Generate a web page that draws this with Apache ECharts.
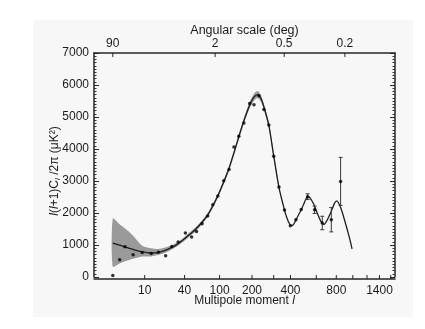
<!DOCTYPE html>
<html>
<head>
<meta charset="utf-8">
<script src="https://cdn.jsdelivr.net/npm/echarts@6/dist/echarts.min.js"></script>
<style>
  html, body { margin: 0; padding: 0; background: #ffffff; }
  #chart { width: 425px; height: 329px; }
</style>
</head>
<body>
<div id="chart"></div>
<script>
// Binned angular power spectrum: multipole l and l(l+1)C_l/2π in μK²
const dataL = [2, 3, 4, 6, 9, 13, 17, 22, 27, 33, 41, 49, 56, 65, 75, 85, 96, 110, 124, 138,
               153, 170, 191, 208, 229, 251, 275, 300, 329, 362, 399, 437, 476, 526, 585, 655, 746, 849];
const dataD = [50, 540, 945, 695, 765, 735, 775, 665, 950, 1095, 1375, 1250, 1425, 1665, 1910, 2255, 2530, 3010, 3360, 4060,
               4395, 4810, 5420, 5385, 5665, 5235, 4750, 3770, 2810, 2090, 1603, 1790, 2110, 2510, 2100, 1688, 1790, 2988];

// High-l bins drawn with error bars (centre and 1σ)
const errL = [526, 585, 655, 746, 849];
const errD = [2510, 2100, 1688, 1790, 2988];
const errSigma = [90, 115, 210, 380, 750];

// Best-fit model spectrum
const modelL = [2, 3, 4, 6, 9, 13, 18, 24, 32, 42, 55, 65, 75, 85, 96, 110, 124, 138, 153, 170,
                191, 208, 224, 240, 251, 275, 300, 329, 352, 373, 396, 412, 440, 488, 528, 570, 614, 645, 672, 700,
                745, 781, 805, 845, 895, 957, 990];
const modelD = [1060, 995, 940, 860, 785, 750, 780, 870, 1020, 1240, 1500, 1710, 1940, 2220, 2540, 2970, 3400, 3880, 4380, 4880,
                5370, 5620, 5700, 5540, 5320, 4740, 3790, 2800, 2290, 1900, 1640, 1610, 1810, 2210, 2520, 2330, 1950, 1720, 1640, 1760,
                2050, 2310, 2380, 2200, 1790, 1220, 880];

// Cosmic variance band around the model
const bandL  = [2, 3, 4, 6, 9, 13, 18, 24, 32, 42, 55, 65, 75, 85, 96, 110, 124, 138, 153, 170,
                191, 208, 224, 240, 251, 275, 300, 329];
const bandLo = [320, 420, 490, 570, 640, 640, 700, 800, 960, 1180, 1440, 1650, 1880, 2160, 2480, 2900, 3330, 3800, 4300, 4790,
                5270, 5510, 5590, 5440, 5230, 4650, 3710, 2740];
const bandHi = [1830, 1650, 1520, 1290, 980, 900, 880, 950, 1080, 1300, 1560, 1770, 2000, 2280, 2600, 3040, 3470, 3960, 4460, 4970,
                5470, 5730, 5810, 5640, 5410, 4830, 3870, 2860];

// Axis ticks
const xLabelValues = [10, 40, 100, 200, 400, 800, 1400];
const xTickValues = [10, 40, 100, 200, 300, 400, 600, 800, 1000, 1200, 1400, 1600];
const topLabelDegrees = [90, 2, 0.5, 0.2];

// The multipole axis is laid out in l^(1/4)
const fwd = l => Math.pow(l, 0.25);
const inv = u => Math.pow(u, 4);

const U_MIN = 0.842, U_MAX = 6.403;
const Y_MIN = 0, Y_MAX = 7000, Y_STEP = 1000;

const FONT = "'Liberation Sans', Arial, sans-serif";
const INK = '#1a1a1a';
const AXIS = '#262626';

const chart = echarts.init(document.getElementById('chart'), null, { renderer: 'canvas' });

const lineStyle = { color: AXIS, width: 1.5 };
const tickStyle = { color: AXIS, width: 1 };

function yAxisDef(pos, extra) {
  return Object.assign({
    type: 'value', position: pos, min: Y_MIN, max: Y_MAX, interval: Y_STEP,
    axisLine: { show: true, onZero: false, lineStyle: lineStyle },
    axisTick: { show: true, inside: true, length: 5, lineStyle: tickStyle },
    minorTick: { show: true, splitNumber: 10, length: 2.5, lineStyle: { color: '#333333', width: 1 } },
    axisLabel: { show: false },
    splitLine: { show: false },
    minorSplitLine: { show: false }
  }, extra || {});
}

// tick marks along the multipole axes: [u, side] with side 0 = bottom, 1 = top
const xTickItems = xTickValues.map(l => [fwd(l), 0])
  .concat(topLabelDegrees.map(d => [fwd(180 / d), 1]));

const option = {
  backgroundColor: '#ffffff',
  animation: false,
  graphic: [{
    type: 'rect', z: -10, silent: true,
    shape: { x: 33, y: 20, width: 380, height: 297 },
    style: { fill: '#f7f7f7' }
  }],
  grid: { left: 94, right: 30, top: 53, bottom: 52, containLabel: false },
  xAxis: [
    {
      type: 'value', position: 'bottom', min: U_MIN, max: U_MAX, offset: 2,
      axisLine: { show: true, onZero: false, lineStyle: lineStyle },
      axisTick: { show: false },
      axisLabel: {
        customValues: xLabelValues.map(fwd),
        formatter: v => String(Math.round(inv(v))),
        margin: 6, fontSize: 12, color: INK, fontFamily: FONT
      },
      splitLine: { show: false },
      name: 'Multipole moment {i|l}',
      nameLocation: 'middle', nameGap: 16, nameMoveOverlap: false,
      nameTextStyle: { fontSize: 12, color: INK, fontFamily: FONT,
        rich: { i: { fontSize: 12, fontStyle: 'italic', color: INK, fontFamily: FONT } } }
    },
    {
      type: 'value', position: 'top', min: U_MIN, max: U_MAX,
      axisLine: { show: true, onZero: false, lineStyle: lineStyle },
      axisTick: { show: false },
      axisLabel: {
        customValues: topLabelDegrees.map(d => fwd(180 / d)),
        formatter: v => String(parseFloat((180 / inv(v)).toPrecision(2))),
        margin: 3, fontSize: 12, color: INK, fontFamily: FONT
      },
      splitLine: { show: false },
      name: 'Angular scale (deg)',
      nameLocation: 'middle', nameGap: 16, nameMoveOverlap: false,
      nameTextStyle: { fontSize: 12.5, color: INK, fontFamily: FONT }
    }
  ],
  yAxis: [
    yAxisDef('left', {
      axisLabel: { show: true, formatter: v => String(v), margin: 5, fontSize: 12, color: INK, fontFamily: FONT },
      name: '{i|l}({i|l}+1)C{s|l} /2π (μK²)',
      nameLocation: 'middle', nameGap: 32, nameRotate: 90, nameMoveOverlap: false,
      nameTextStyle: {
        fontSize: 12, color: INK, fontFamily: FONT, padding: [0, 12, 0, 0],
        rich: {
          i: { fontSize: 12, fontStyle: 'italic', color: INK, fontFamily: FONT, lineHeight: 14 },
          s: { fontSize: 8, fontStyle: 'italic', color: INK, fontFamily: FONT, lineHeight: 8, verticalAlign: 'bottom' }
        }
      }
    }),
    yAxisDef('right')
  ],
  series: [
    {
      // shaded band
      type: 'custom', name: 'band', silent: true, z: 1,
      xAxisIndex: 0, yAxisIndex: 0,
      data: [[fwd(bandL[0]), bandLo[0]]],
      renderItem: function (params, api) {
        const pts = [];
        for (let i = 0; i < bandL.length; i++) pts.push(api.coord([fwd(bandL[i]), bandHi[i]]));
        for (let i = bandL.length - 1; i >= 0; i--) pts.push(api.coord([fwd(bandL[i]), bandLo[i]]));
        return { type: 'polygon', shape: { points: pts, smooth: 0.25 }, style: { fill: '#9a9a9a', stroke: null } };
      }
    },
    {
      type: 'line', name: 'model', z: 3,
      xAxisIndex: 0, yAxisIndex: 0,
      data: modelL.map((l, i) => [fwd(l), modelD[i]]),
      showSymbol: false, smooth: 0.3,
      lineStyle: { color: '#1e1e1e', width: 1.3 }
    },
    {
      // error bars
      type: 'custom', name: 'errors', z: 4,
      xAxisIndex: 0, yAxisIndex: 0,
      data: errL.map((l, i) => [fwd(l), errD[i] - errSigma[i], errD[i] + errSigma[i]]),
      encode: { x: 0, y: [1, 2] },
      renderItem: function (params, api) {
        const lo = api.coord([api.value(0), api.value(1)]);
        const hi = api.coord([api.value(0), api.value(2)]);
        const w = 2;
        const st = { stroke: '#3a3a3a', lineWidth: 1 };
        return {
          type: 'group',
          children: [
            { type: 'line', shape: { x1: lo[0], y1: lo[1], x2: hi[0], y2: hi[1] }, style: st },
            { type: 'line', shape: { x1: lo[0] - w, y1: lo[1], x2: lo[0] + w, y2: lo[1] }, style: st },
            { type: 'line', shape: { x1: hi[0] - w, y1: hi[1], x2: hi[0] + w, y2: hi[1] }, style: st }
          ]
        };
      }
    },
    {
      type: 'scatter', name: 'data', z: 5,
      xAxisIndex: 0, yAxisIndex: 0,
      data: dataL.map((l, i) => [fwd(l), dataD[i]]),
      symbol: 'circle', symbolSize: 3.5,
      itemStyle: { color: '#000000' }
    },
    {
      // tick marks on the bottom (multipole) and top (angle) axes
      type: 'custom', name: 'xticks', silent: true, z: 6, clip: false,
      xAxisIndex: 0, yAxisIndex: 0,
      data: xTickItems,
      renderItem: function (params, api) {
        const u = api.value(0);
        const top = api.value(1) === 1;
        const p = api.coord([u, top ? Y_MAX : Y_MIN]);
        const y0 = top ? p[1] : p[1] + 2;
        const y1 = top ? y0 + 4 : y0 - 4;
        return { type: 'line', shape: { x1: p[0], y1: y0, x2: p[0], y2: y1 },
                 style: { stroke: AXIS, lineWidth: 1 } };
      }
    }
  ]
};

chart.setOption(option);
</script>
</body>
</html>
